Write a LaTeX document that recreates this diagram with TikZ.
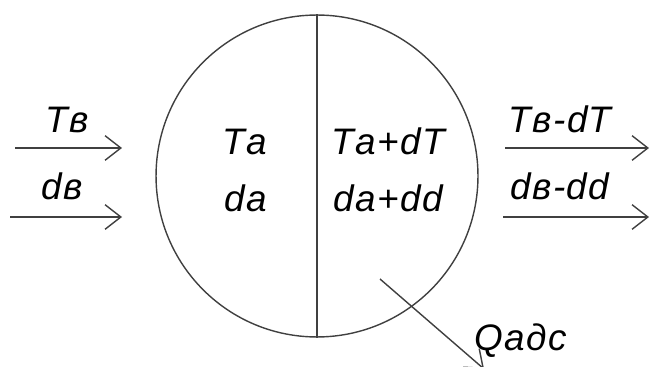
\documentclass[tikz,border=0pt]{standalone}
\usepackage{fontspec}
\setmainfont{Liberation Sans}
\usetikzlibrary{arrows.meta}

\begin{document}
\begin{tikzpicture}[
  x=0.02cm, y=-0.02cm,
  line/.style={line width=0.8pt,draw=black!75},
  flow/.style={line,-{Straight Barb[length=9pt,width=14pt,line width=0.8pt]}},
  lbl/.style={font=\fontsize{21}{24}\selectfont\itshape\addfontfeature{LetterSpace=4},inner sep=0pt,anchor=base}
]
  \useasboundingbox (0,0) rectangle (651,367);

  \node[line,circle,minimum size=6.44cm,inner sep=0pt] (disk) at (317,176) {};
  \draw[line] (disk.north) -- (disk.south);

  \node[lbl] (ta) at (245,155) {Tа};
  \node[lbl] (da) at (246,212) {dа};
  \node[lbl] (tadt) at (388,155) {Tа+dT};
  \node[lbl] (dadd) at (388,212) {dа+dd};

  \coordinate (tin) at (15,148);
  \coordinate (tinend) at (122,148);
  \coordinate (din) at (10,217);
  \coordinate (dinend) at (122,217);
  \draw[flow] (tin) -- (tinend);
  \draw[flow] (din) -- (dinend);
  \node[lbl] (tv) at (67,133) {Tв};
  \node[lbl] (dv) at (62,200) {dв};

  \coordinate (tout) at (505,148);
  \coordinate (toutend) at (649,148);
  \coordinate (dout) at (503,217);
  \coordinate (doutend) at (649,217);
  \draw[flow] (tout) -- (toutend);
  \draw[flow] (dout) -- (doutend);
  \node[lbl] (tvdt) at (560,133) {Tв-dT};
  \node[lbl] (dvdd) at (560,200) {dв-dd};

  \coordinate (qads) at (380,279);
  \coordinate (qadsend) at (484,369);
  \draw[flow] (qads) -- (qadsend);
  \node[lbl] (q) at (521,350) {Qадс};
\end{tikzpicture}
\end{document}
